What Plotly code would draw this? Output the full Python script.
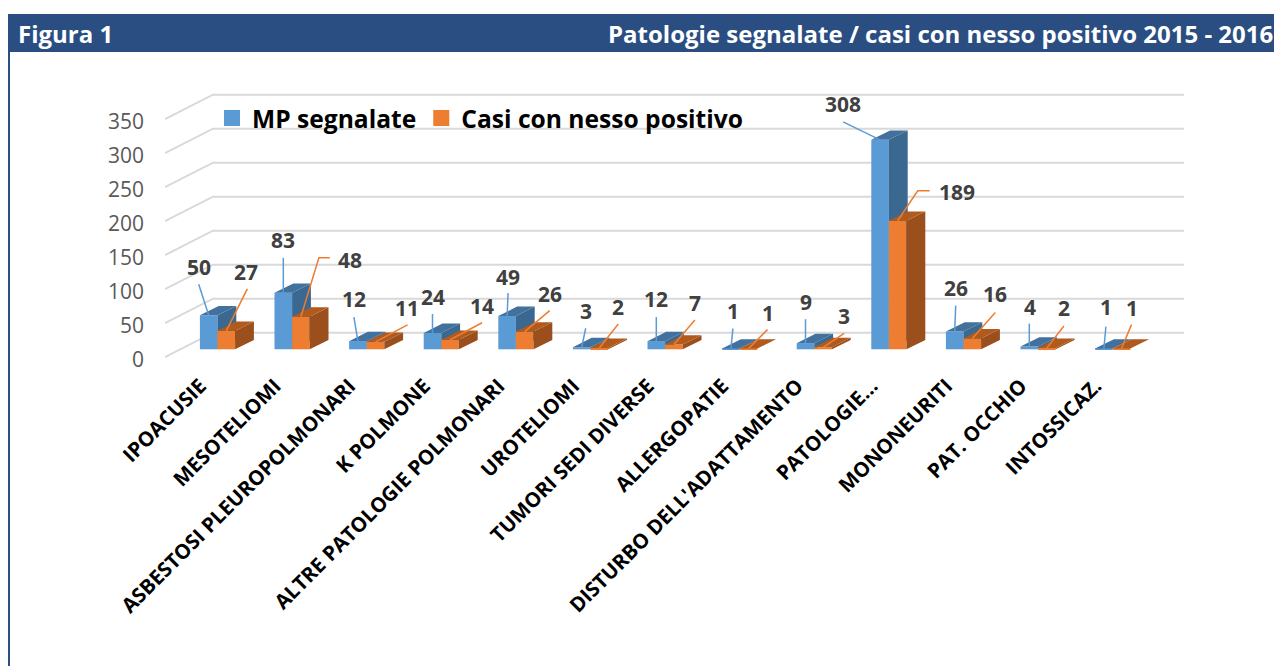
import plotly.graph_objects as go

categories = ['IPOACUSIE', 'MESOTELIOMI', 'ASBESTOSI PLEUROPOLMONARI', 'K POLMONE',
              'ALTRE PATOLOGIE POLMONARI', 'UROTELIOMI', 'TUMORI SEDI DIVERSE', 'ALLERGOPATIE',
              "DISTURBO DELL'ADATTAMENTO", 'PATOLOGIE...', 'MONONEURITI', 'PAT. OCCHIO', 'INTOSSICAZ.']
mp_segnalate = [50, 83, 12, 24, 49, 3, 12, 1, 9, 308, 26, 4, 1]
casi_positivi = [27, 48, 11, 14, 26, 2, 7, 1, 3, 189, 16, 2, 1]
y_ticks = [0, 50, 100, 150, 200, 250, 300, 350]

# label and leader end, in pixels from the top of the bar
blue_label_off = [(-10, -48), (0, -53), (-4, -42), (0, -36), (1, -39), (4, -36), (0, -42),
                  (2, -38), (0, -41.5), (-37, -36), (1, -44), (1, -40), (2, -42)]
blue_leader_off = [(-10, -31), (0, -35), (-4, -24), (0, -19), (1, -23), (4, -19), (0, -24),
                   (2, -20), (0, -24), (-37, -18), (1, -26), (0, -23), (2, -22)]
orange_label_off = [(20, -59), (49, -57), (31, -34), (32, -34), (25, -38), (19, -41), (21, -42),
                    (19, -36), (21, -31), (59, -28.5), (23, -44), (17, -40), (10, -41)]
orange_leader_off = [(21, -42), (29, -59), (32, -17), (32, -17), (25, -21), (19, -24), (21, -24.5),
                     (19, -19), (21, -14), (32, -30), (23, -26), (17, -22), (10, -24)]
orange_elbow = {1: (18, -59), 9: (20, -30)}

W, H = 1274, 666
font = 'Open Sans'
blue, blue_side, blue_top = '#5B9BD5', '#3B6890', '#41719C'
orange, orange_side, orange_top = '#ED7D31', '#9A4F1C', '#B05A1E'
header = '#2A4E82'

# scales, the plot area goes from pixel 165 to 1184 and the floor corner is at pixel 357
px_x = 74.6
px_y = 0.68
x0_px = 217.5
left_px, right_px = 165, 1184
floor_px, bottom_px, top_px = 357, 365, 60
x_range = [(left_px - x0_px) / px_x, (right_px - x0_px) / px_x]
y_range = [-(bottom_px - floor_px) / px_y, (floor_px - top_px) / px_y]
floor_shift = 7.7 / px_y
bar_w = 17.6 / px_x
depth_x = 18.8 / px_x
depth_y = 9.4 / px_y
wall_x = 48 / px_x
wall_y = 24.3 / px_y
x_label_nudge = 17 / px_x
y_label_nudge = 2.5 / px_y


def faces(values, start):
    side_x, side_y, top_x, top_y = [], [], [], []
    for i, v in enumerate(values):
        a = i + start
        b = a + bar_w
        side_x += [b, b + depth_x, b + depth_x, b, b, None]
        side_y += [0, depth_y, v + depth_y, v, 0, None]
        top_x += [a, a + depth_x, b + depth_x, b, a, None]
        top_y += [v, v + depth_y, v + depth_y, v, v, None]
    return side_x, side_y, top_x, top_y


def leaders(values, start, offs, elbows=None):
    xs, ys = [], []
    for i, v in enumerate(values):
        xc = i + start + bar_w / 2
        xs.append(xc)
        ys.append(v)
        if elbows and i in elbows:
            xs.append(xc + elbows[i][0] / px_x)
            ys.append(v - elbows[i][1] / px_y)
        xs += [xc + offs[i][0] / px_x, None]
        ys += [v - offs[i][1] / px_y, None]
    return xs, ys


def poly(x, y, color, xa, ya):
    return go.Scatter(x=x, y=y, mode='lines', fill='toself', fillcolor=color, line=dict(width=0),
                      xaxis=xa, yaxis=ya, showlegend=False, hoverinfo='skip')


fig = go.Figure()

# back wall grid, on the base axes
grid_x, grid_y = [], []
for t in y_ticks:
    grid_x += [x_range[0], x_range[0] + wall_x, x_range[1], None]
    grid_y += [t, t + wall_y, t + wall_y, None]
fig.add_trace(go.Scatter(x=grid_x, y=grid_y, mode='lines', line=dict(color='#D9D9D9', width=2),
                         showlegend=False, hoverinfo='skip'))

# legend entries
fig.add_trace(go.Scatter(x=[None], y=[None], mode='markers', name='MP segnalate',
                         marker=dict(symbol='square', size=16, color=blue)))
fig.add_trace(go.Scatter(x=[None], y=[None], mode='markers', name='Casi con nesso positivo',
                         marker=dict(symbol='square', size=16, color=orange)))

# blue bars
xs = list(range(len(categories)))
s_x, s_y, t_x, t_y = faces(mp_segnalate, -bar_w)
fig.add_trace(poly(s_x, s_y, blue_side, 'x2', 'y2'))
fig.add_trace(poly(t_x, t_y, blue_top, 'x2', 'y2'))
fig.add_trace(go.Bar(x=xs, y=mp_segnalate, width=bar_w, offset=-bar_w, marker=dict(color=blue, line=dict(width=0)),
                     xaxis='x2', yaxis='y2', showlegend=False))

# orange bars sit on their own axes so they cover the blue side faces
s_x, s_y, t_x, t_y = faces(casi_positivi, 0)
fig.add_trace(go.Bar(x=xs, y=casi_positivi, width=bar_w, offset=0, marker=dict(color=orange, line=dict(width=0)),
                     xaxis='x3', yaxis='y3', showlegend=False))
fig.add_trace(poly(s_x, s_y, orange_side, 'x3', 'y3'))
fig.add_trace(poly(t_x, t_y, orange_top, 'x3', 'y3'))

# leader lines
lx, ly = leaders(mp_segnalate, -bar_w, blue_leader_off)
fig.add_trace(go.Scatter(x=lx, y=ly, mode='lines', line=dict(color=blue, width=1.5), xaxis='x3', yaxis='y3',
                         showlegend=False, hoverinfo='skip'))
lx, ly = leaders(casi_positivi, 0, orange_leader_off, orange_elbow)
fig.add_trace(go.Scatter(x=lx, y=ly, mode='lines', line=dict(color=orange, width=1.5), xaxis='x3', yaxis='y3',
                         showlegend=False, hoverinfo='skip'))

# data labels
annotations = []
for values, start, offs in [(mp_segnalate, -bar_w, blue_label_off), (casi_positivi, 0, orange_label_off)]:
    for i, v in enumerate(values):
        annotations.append(dict(x=i + start + bar_w / 2, y=v, xref='x3', yref='y3', text=str(v), showarrow=False,
                                xshift=offs[i][0], yshift=-offs[i][1], xanchor='center', yanchor='middle',
                                font=dict(family=font, size=21, color='#404040', weight='bold')))

# header band
annotations.append(dict(x=16 / W, y=1 - 33 / H, xref='paper', yref='paper', text='Figura 1', showarrow=False,
                        xanchor='left', yanchor='middle', font=dict(family=font, size=24, color='white', weight='bold')))
annotations.append(dict(x=1274.5 / W, y=1 - 33 / H, xref='paper', yref='paper', showarrow=False,
                        text='Patologie segnalate / casi con nesso positivo 2015 - 2016',
                        xanchor='right', yanchor='middle', font=dict(family=font, size=24, color='white', weight='bold')))

shapes = [dict(type='rect', xref='paper', yref='paper', x0=8 / W, x1=1, y0=1 - 52 / H, y1=1 - 14 / H,
               fillcolor=header, line=dict(width=0), layer='below'),
          dict(type='rect', xref='paper', yref='paper', x0=8 / W, x1=10 / W, y0=0, y1=1 - 52 / H,
               fillcolor=header, line=dict(width=0), layer='below')]

x_dom = [left_px / W, right_px / W]
y_dom = [1 - bottom_px / H, 1 - top_px / H]
hidden_x = dict(domain=x_dom, range=x_range, visible=False, overlaying='x', automargin=False)
hidden_y = dict(domain=y_dom, range=[y_range[0] - floor_shift, y_range[1] - floor_shift], visible=False,
                overlaying='y', automargin=False)

fig.update_layout(
    width=W, height=H,
    margin=dict(l=0, r=0, t=0, b=0),
    paper_bgcolor='white', plot_bgcolor='rgba(0,0,0,0)',
    xaxis=dict(domain=x_dom, range=x_range, tickvals=[x - x_label_nudge for x in xs], ticktext=categories,
               tickangle=-45, showgrid=False, zeroline=False, showline=False, ticks='', ticklabelstandoff=4,
               automargin=False, tickfont=dict(family=font, size=20.4, color='black', weight='bold')),
    yaxis=dict(domain=y_dom, range=y_range, tickvals=[t - y_label_nudge for t in y_ticks],
               ticktext=[str(t) for t in y_ticks], showgrid=False, zeroline=False, showline=False,
               ticks='', ticklabelstandoff=20, automargin=False, tickfont=dict(family=font, size=21, color='#595959')),
    xaxis2=dict(hidden_x, anchor='y2'), yaxis2=dict(hidden_y, anchor='x2'),
    xaxis3=dict(hidden_x, anchor='y3'), yaxis3=dict(hidden_y, anchor='x3'),
    legend=dict(orientation='h', x=212 / W, y=1 - 118 / H, xanchor='left', yanchor='middle',
                itemsizing='trace', bgcolor='rgba(0,0,0,0)',
                font=dict(family=font, size=24.6, color='black', weight='bold')),
    annotations=annotations, shapes=shapes,
    showlegend=True, hovermode=False,
)

fig.write_html("out.html", config={'displayModeBar': False},
               post_script="document.body.style.margin='0';document.documentElement.style.overflow='hidden';")
